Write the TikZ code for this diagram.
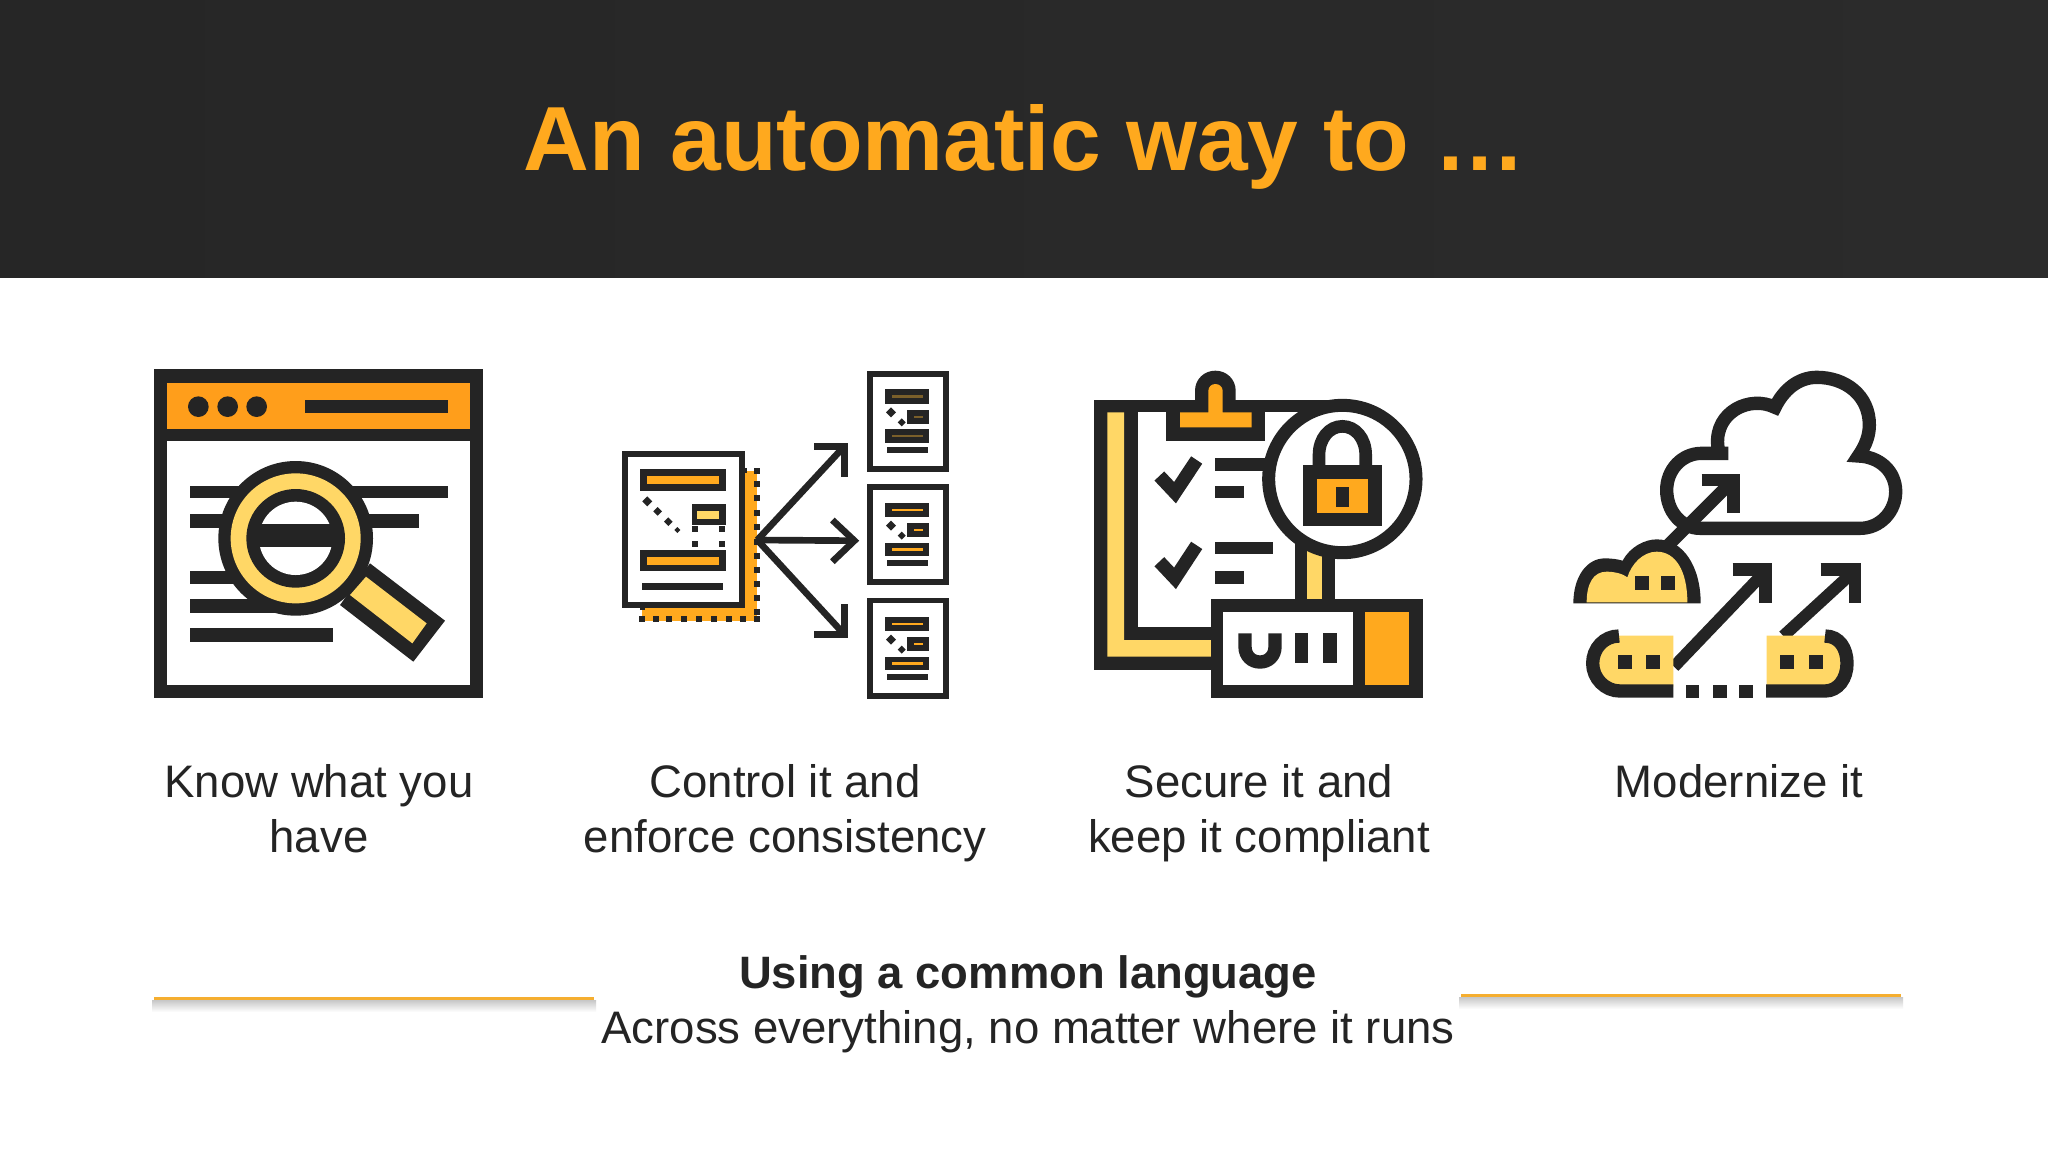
\documentclass[tikz,border=0pt]{standalone}
\usepackage{fontspec}
\setmainfont{Liberation Sans}
\definecolor{dk}{HTML}{242424}
\definecolor{bandL}{HTML}{262626}
\definecolor{bandR}{HTML}{2B2B2B}
\definecolor{org}{HTML}{FFA91E}
\definecolor{hdr}{HTML}{FF9E1B}
\definecolor{yel}{HTML}{FFD766}
\definecolor{rule}{HTML}{F5AE30}
\definecolor{mut}{HTML}{7A5F2A}
\def\zz{0.166667pt}
\tikzset{
  lab/.style={anchor=base,text=dk,font=\fontsize{22.78pt}{26pt}\selectfont,inner sep=0pt},
  ttl/.style={anchor=base,text=org,font=\fontsize{45.55pt}{50pt}\bfseries\selectfont,inner sep=0pt},
  icon/.style={x=\zz,y=-\zz},
  st/.style={draw=dk,line width=#1*\zz,line cap=butt,miter limit=10},
}
\newcommand{\sqr}[3]{\fill[dk] (#1-#3,#2-#3) rectangle (#1+#3,#2+#3);}
\newcommand{\dia}[3]{\fill[dk] (#1-#3,#2) -- (#1,#2-#3) -- (#1+#3,#2) -- (#1,#2+#3) -- cycle;}
\newcommand{\smalldoc}[3]{% outer top, inner offset, accent colour
  \fill[dk] (801,#1) rectangle (1046,#1+303);
  \fill[white] (819,#1+17) rectangle (1030,#1+285);
  \fill[dk] (855,118+#2) rectangle (988,162+#2);
  \fill[#3] (875,136+#2) rectangle (968,144+#2);
  \fill[dk] (855,238+#2) rectangle (988,278+#2);
  \fill[#3] (875,254+#2) rectangle (968,262+#2);
  \fill[dk] (860,290+#2) rectangle (985,308+#2);
  \fill[dk] (920,180+#2) rectangle (988,222+#2);
  \fill[#3] (943,198+#2) rectangle (970,204+#2);
  \dia{873}{187+#2}{15}
  \dia{905}{217+#2}{12}
}
\begin{document}
\begin{tikzpicture}[x=0.5pt,y=-0.5pt]
\useasboundingbox (0,0) rectangle (2048,1152);
\fill[white] (0,0) rectangle (2048,1152);
\shade[left color=bandL,right color=bandR] (0,0) rectangle (2048,277);
\node[ttl] (title) at (1025,170) {An automatic way to …};

% ---------- icon 1
\begin{scope}[shift={(130,350)},icon]
  \fill[dk] (72,58) rectangle (1058,1045);
  \fill[white] (112,272) rectangle (1020,1006);
  \fill[hdr] (112,98) rectangle (1020,237);
  \foreach \cx in {205,293,380} \fill[dk] (\cx,170) circle[radius=31];
  \fill[dk] (525,150) rectangle (955,188);
  \fill[dk] (181,407) rectangle (955,445);
  \fill[dk] (181,493) rectangle (867,535);
  \fill[dk] (181,663) rectangle (450,702);
  \fill[dk] (181,748) rectangle (500,788);
  \fill[dk] (181,833) rectangle (609,875);
  \fill[dk] (720,640) -- (945,812) -- (850,935) -- (630,765) -- cycle;
  \fill[yel] (708,680) -- (890,820) -- (847,880) -- (660,735) -- cycle;
  \fill[dk] (497,565) circle[radius=232];
  \fill[yel] (497,565) circle[radius=195];
  \fill[dk] (497,565) circle[radius=148];
  \fill[white] (497,565) circle[radius=110];
  \fill[dk] (385,522) rectangle (610,592);
\end{scope}

% ---------- icon 2
\begin{scope}[shift={(600,350)},icon]
  \fill[org] (125,362) rectangle (472,812);
  \foreach \yy in {362,402,445,488,530,575,618,660,703,745,785,808} {\sqr{471}{\yy}{9}}
  \foreach \xx in {125,167,208,253,297,342,386,430} {\sqr{\xx}{808}{9}}
  \sqr{432}{362}{8}
  \fill[dk] (66,304) rectangle (434,773);
  \fill[white] (84,322) rectangle (417,755);
  \sqr{127}{772}{7}
  \fill[dk] (120,358) rectangle (378,422);
  \fill[org] (142,378) rectangle (358,402);
  \fill[dk] (120,600) rectangle (378,663);
  \fill[org] (142,620) rectangle (358,645);
  \fill[dk] (127,698) rectangle (370,720);
  \dia{142}{454}{15}
  \dia{173}{484}{13}
  \dia{205}{515}{13}
  \dia{232}{540}{9}
  \fill[dk] (275,463) rectangle (378,525);
  \fill[yel] (292,482) rectangle (358,507);
  \sqr{284}{537}{9} \sqr{367}{537}{9} \sqr{284}{581}{9} \sqr{367}{581}{9}
  \coordinate (src) at (472,570);
  \coordinate (t1) at (730,292);
  \coordinate (t2) at (762,572);
  \coordinate (t3) at (730,850);
  \draw[st=20] (src) -- (t1);
  \draw[st=20] (src) -- (t2);
  \draw[st=20] (src) -- (t3);
  \draw[st=20] (642,290) -- (733,290) -- (733,380);
  \draw[st=20] (697,510) -- (763,572) -- (697,635);
  \draw[st=20] (642,853) -- (733,853) -- (733,762);
  \smalldoc{64}{0}{mut}
  \smalldoc{402}{340}{org}
  \smalldoc{743}{682}{org}
\end{scope}

% ---------- icon 3
\begin{scope}[shift={(1070,350)},icon]
  \fill[dk] (73,150) rectangle (830,187);
  \fill[dk] (73,150) rectangle (203,960);
  \fill[dk] (73,830) rectangle (430,960);
  \fill[yel] (112,187) -- (162,187) -- (162,870) -- (425,870) -- (425,920) -- (112,920) -- cycle;
  % clip
  \fill[dk] (288,150) rectangle (585,272);
  \fill[dk] (375,190) -- (375,122) .. controls (375,88) and (402,62) .. (436,62) .. controls (470,62) and (497,88) .. (497,122) -- (497,190) -- cycle;
  \fill[org] (330,187) -- (415,187) -- (415,122) .. controls (415,110) and (425,102) .. (436,102) .. controls (447,102) and (458,110) .. (458,122) -- (458,187) -- (545,187) -- (545,232) -- (330,232) -- cycle;
  % checks
  \draw[st=40] (268,378) -- (315,428) -- (380,330);
  \draw[st=40] (268,635) -- (315,685) -- (380,586);
  \fill[dk] (435,323) rectangle (600,362);
  \fill[dk] (435,407) rectangle (523,445);
  \fill[dk] (435,575) rectangle (608,612);
  \fill[dk] (435,663) rectangle (523,702);
  % stem
  \fill[dk] (675,580) rectangle (795,760);
  \fill[yel] (712,590) rectangle (757,760);
  % lens
  \draw[st=39,fill=white] (817,387) circle[radius=221];
  \fill[dk] (700,345) rectangle (935,527);
  \fill[org] (740,388) rectangle (893,490);
  \fill[dk] (797,412) rectangle (838,470);
  \draw[st=38] (747,350) -- (747,315) .. controls (747,265) and (778,229) .. (817,229) .. controls (856,229) and (887,265) .. (887,315) -- (887,350);
  % bottom box
  \fill[dk] (422,747) rectangle (1058,1043);
  \fill[white] (458,787) rectangle (848,1005);
  \fill[org] (885,787) rectangle (1018,1005);
  \draw[st=40] (525,850) -- (525,890) .. controls (525,918) and (545,936) .. (570,936) .. controls (595,936) and (615,918) .. (615,890) -- (615,850);
  \fill[dk] (675,850) rectangle (715,938);
  \fill[dk] (760,850) rectangle (800,938);
\end{scope}

% ---------- icon 4
\begin{scope}[shift={(1550,350)},icon]
  \draw[st=40,line join=miter] (535,310) -- (455,310) .. controls (395,310) and (350,360) .. (350,420) .. controls (350,485) and (395,535) .. (450,535)
     -- (930,535) .. controls (990,535) and (1037,485) .. (1037,425) .. controls (1037,365) and (990,320) .. (925,318)
     .. controls (948,285) and (958,255) .. (958,225) .. controls (958,135) and (885,82) .. (800,82) .. controls (745,82) and (700,120) .. (675,172)
     .. controls (600,135) and (495,185) .. (503,285) -- (505,300);
  \draw[st=38] (350,590) -- (545,395);
  \draw[st=38] (455,390) -- (551,390) -- (551,490);
  % small cloud
  \fill[dk] (70,760) .. controls (70,680) and (110,625) .. (165,625) .. controls (185,625) and (205,628) .. (218,632) .. controls (240,590) and (285,568) .. (320,568) .. controls (400,568) and (452,650) .. (452,760) -- cycle;
  \fill[yel] (110,757) .. controls (110,700) and (130,665) .. (170,665) .. controls (195,665) and (220,672) .. (232,682) .. controls (245,640) and (280,605) .. (320,605) .. controls (375,605) and (412,660) .. (412,757) -- cycle;
  \sqr{277}{700}{21} \sqr{355}{700}{21}
  % arrows
  \draw[st=36] (372,950) -- (640,670);
  \draw[st=38] (548,659) -- (646,659) -- (646,760);
  \draw[st=36] (700,858) -- (905,670);
  \draw[st=38] (812,659) -- (915,659) -- (915,760);
  % left pill
  \fill[yel] (370,857) -- (207,857) .. controls (170,857) and (147,900) .. (147,940) .. controls (147,985) and (170,1010) .. (210,1010) -- (370,1010) -- cycle;
  \draw[st=40] (207,858) .. controls (162,858) and (128,895) .. (128,940) .. controls (128,985) and (165,1023) .. (210,1023) -- (370,1023);
  \sqr{225}{937}{21} \sqr{310}{937}{21}
  % right pill
  \fill[yel] (650,857) -- (825,857) .. controls (850,857) and (872,900) .. (872,940) .. controls (872,985) and (850,1010) .. (825,1010) -- (650,1010) -- cycle;
  \draw[st=40] (825,858) .. controls (868,858) and (891,895) .. (891,940) .. controls (891,985) and (865,1023) .. (825,1023) -- (648,1023);
  \sqr{712}{937}{21} \sqr{797}{937}{21}
  \sqr{428}{1024}{20} \sqr{510}{1024}{20} \sqr{588}{1024}{20}
\end{scope}

% ---------- labels
\node[lab] (a1) at (319,797) {Know what you};
\node[lab] (a2) at (319,852) {have};
\node[lab] (b1) at (785,797) {Control it and};
\node[lab] (b2) at (785,852) {enforce consistency};
\node[lab] (c1) at (1259,797) {Secure it and};
\node[lab] (c2) at (1259,852) {keep it compliant};
\node[lab] (d1) at (1739,797) {Modernize it};
\node[lab,font=\fontsize{22.7pt}{26pt}\bfseries\selectfont] (e1) at (1028,988) {Using a common language};
\node[lab] (e2) at (1028,1043) {Across everything, no matter where it runs};

% ---------- rules
\shade[top color=black!22,bottom color=white] (152,1000) rectangle (596,1012);
\fill[rule] (154,997) rectangle (594,1000);
\shade[top color=black!22,bottom color=white] (1459,997) rectangle (1903,1009);
\fill[rule] (1461,994) rectangle (1901,997);
\end{tikzpicture}
\end{document}
